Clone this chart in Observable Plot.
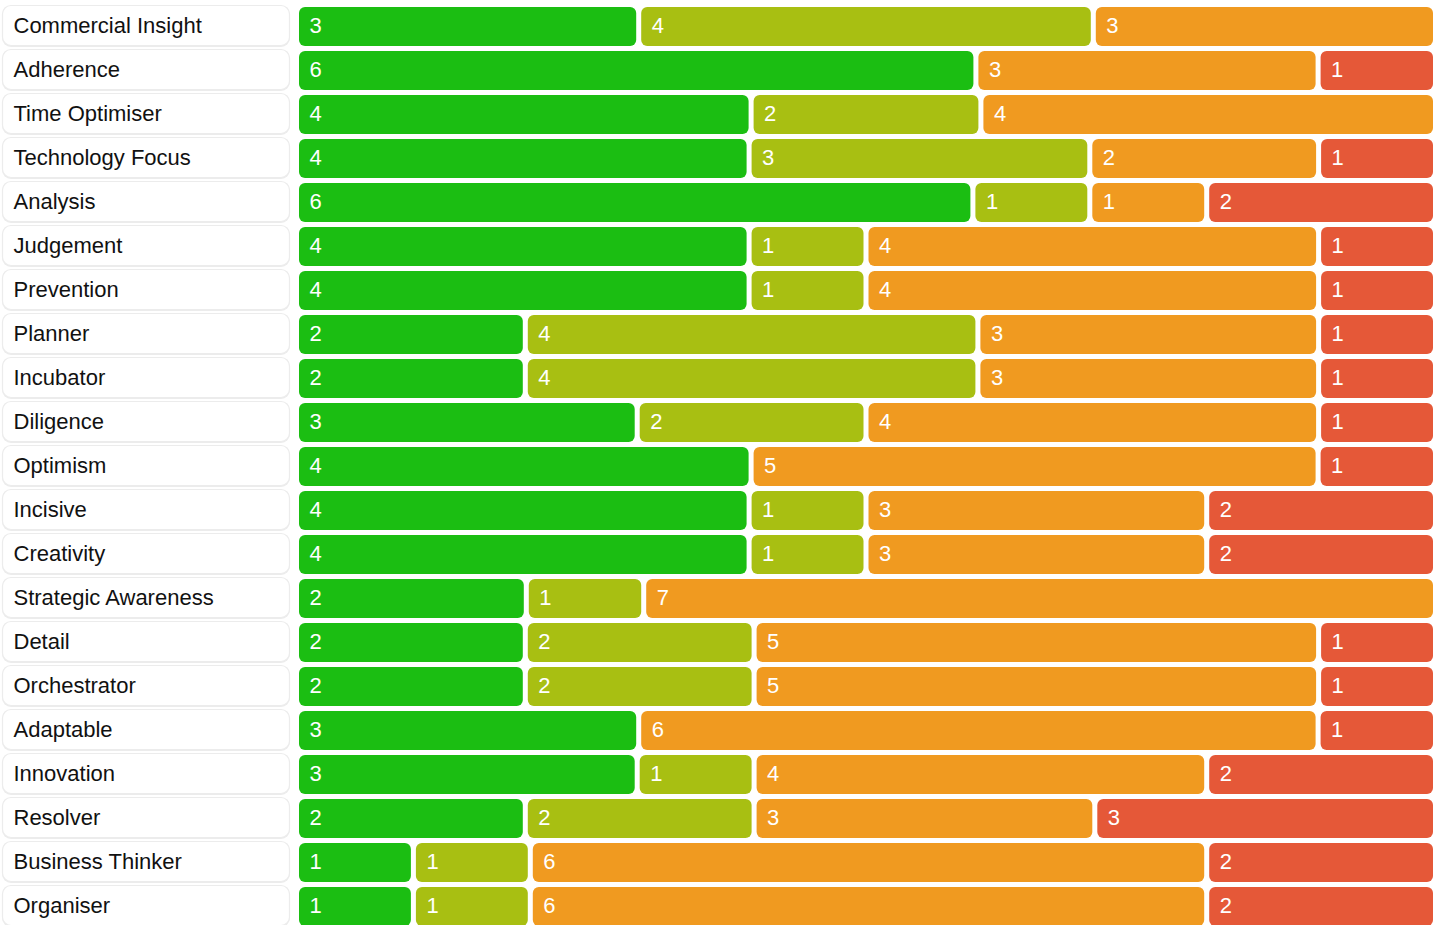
<!DOCTYPE html>
<html>
<head>
<meta charset="utf-8">
<script src="https://cdn.jsdelivr.net/npm/d3@7"></script>
<script src="https://cdn.jsdelivr.net/npm/@observablehq/plot@0.6"></script>
<style>
  html, body { margin: 0; padding: 0; background: #fff; }
  #chart svg { display: block; }
</style>
</head>
<body>
<div id="chart"></div>
<script>
const categories = [
  "Commercial Insight", "Adherence", "Time Optimiser", "Technology Focus", "Analysis",
  "Judgement", "Prevention", "Planner", "Incubator", "Diligence", "Optimism",
  "Incisive", "Creativity", "Strategic Awareness", "Detail", "Orchestrator",
  "Adaptable", "Innovation", "Resolver", "Business Thinker", "Organiser"
];
const levels = ["level1", "level2", "level3", "level4"];
const levelColors = ["#1bbe12", "#a8bf12", "#f09a20", "#e55838"];

const level1Values = [3, 6, 4, 4, 6, 4, 4, 2, 2, 3, 4, 4, 4, 2, 2, 2, 3, 3, 2, 1, 1];
const level2Values = [4, 0, 2, 3, 1, 1, 1, 4, 4, 2, 0, 1, 1, 1, 2, 2, 0, 1, 2, 1, 1];
const level3Values = [3, 3, 4, 2, 1, 4, 4, 3, 3, 4, 5, 3, 3, 7, 5, 5, 6, 4, 3, 6, 6];
const level4Values = [0, 1, 0, 1, 2, 1, 1, 1, 1, 1, 1, 2, 2, 0, 1, 1, 1, 2, 3, 2, 2];

const W = 1434;
const marginLeft = 299;
const marginRight = 1;
const total = 10;
const gapPx = 5;
const unitPx = (W - marginLeft - marginRight) / total;
const fontFamily = "'Liberation Sans', Arial, Helvetica, sans-serif";

// Flex-like layout: segments share the row width minus fixed gaps, proportionally to value.
const seriesValues = [level1Values, level2Values, level3Values, level4Values];
const rows = [];
categories.forEach((cat, i) => {
  const segs = [];
  levels.forEach((lev, j) => {
    const v = seriesValues[j][i];
    if (v > 0) segs.push({label: cat, level: lev, value: v});
  });
  const g = gapPx / unitPx;
  const usable = total - g * (segs.length - 1);
  let cum = 0;
  segs.forEach((s, k) => {
    s.x1 = k * g + cum * usable / total;
    s.x2 = s.x1 + s.value * usable / total;
    cum += s.value;
    rows.push(s);
  });
});

function labelBoxes(index, scales, values, dimensions) {
  const g = d3.create("svg:g");
  const bw = scales.y.bandwidth();
  for (const name of categories) {
    const y0 = scales.y(name);
    g.append("rect")
      .attr("x", 2).attr("y", y0 + 2)
      .attr("width", dimensions.marginLeft - 11).attr("height", bw - 3)
      .attr("rx", 9)
      .attr("fill", "#ececec");
    g.append("rect")
      .attr("x", 2.5).attr("y", y0 + 1.5)
      .attr("width", dimensions.marginLeft - 12).attr("height", bw - 4)
      .attr("rx", 8.5)
      .attr("fill", "#fff")
      .attr("stroke", "#ececec")
      .attr("stroke-width", 1.2);
  }
  return g.node();
}

const chart = Plot.plot({
  width: W,
  height: 928,
  marginTop: 4,
  marginBottom: 0,
  marginLeft: marginLeft,
  marginRight: marginRight,
  style: {fontFamily: fontFamily, background: "#fff"},
  x: {domain: [0, total], axis: null},
  y: {domain: categories, axis: null, padding: 0},
  color: {type: "ordinal", domain: levels, range: levelColors},
  marks: [
    labelBoxes,
    Plot.text(categories, {
      y: d => d, text: d => d,
      frameAnchor: "left", textAnchor: "start",
      dx: 13 - marginLeft, dy: -1, fontSize: 22, fill: "#111"
    }),
    Plot.barX(rows, {
      x1: "x1", x2: "x2", y: "label", fill: "level",
      insetTop: 3, insetBottom: 2, rx: 6
    }),
    Plot.text(rows, {
      x: "x1", y: "label", text: "value",
      textAnchor: "start", dx: 10, dy: -1, fontSize: 22, fill: "#fff"
    })
  ]
});
d3.select(chart).selectAll("g[aria-label='bar'] rect").attr("rx", 6).attr("ry", 6);
document.getElementById("chart").appendChild(chart);
</script>
</body>
</html>
